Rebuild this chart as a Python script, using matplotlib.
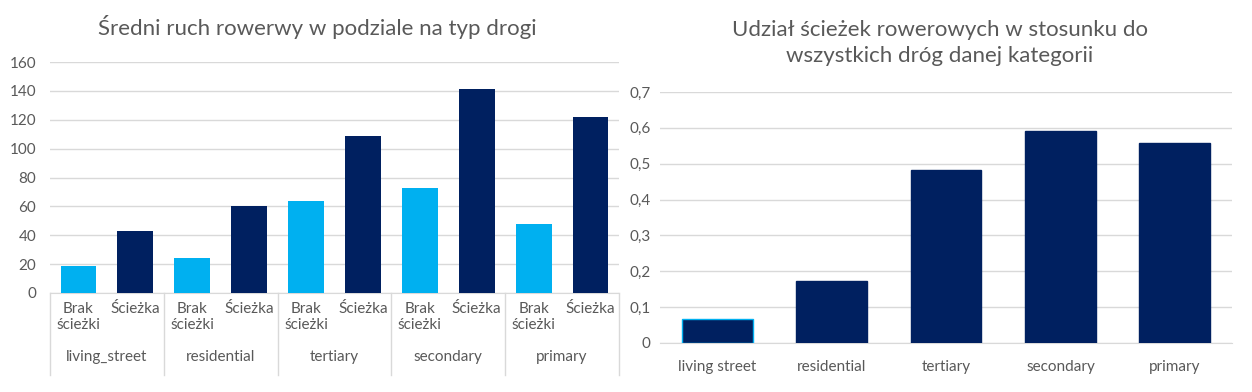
import numpy as np
import matplotlib.pyplot as plt

plt.rcParams['font.family'] = ['Lato', 'DejaVu Sans']

road_types = ['living_street', 'residential', 'tertiary', 'secondary', 'primary']
sub_labels = ['Brak\nścieżki', 'Ścieżka']
traffic_no_path = [19, 24, 64, 73, 48]
traffic_path = [43, 60, 109, 141, 122]

share_labels = ['living street', 'residential', 'tertiary', 'secondary', 'primary']
share_values = [0.068, 0.173, 0.483, 0.590, 0.557]

light = '#00B0F0'
navy = '#002060'
grid_c = '#D9D9D9'
text_c = '#595959'

fig = plt.figure(figsize=(12.52, 3.92), dpi=100)

# left chart: average traffic
ax1 = fig.add_axes([50/1252, 99/392, 569/1252, 231/392])
vals = []
cols = []
for a, b in zip(traffic_no_path, traffic_path):
    vals += [a, b]
    cols += [light, navy]
x = np.arange(len(vals))
ax1.bar(x, vals, width=0.63, color=cols, zorder=3)
ax1.set_xlim(-0.5, len(vals) - 0.5)
ax1.set_ylim(0, 160)
ax1.set_yticks(np.arange(0, 161, 20))
ax1.yaxis.grid(True, color=grid_c, linewidth=1)
ax1.set_axisbelow(True)
ax1.set_xticks([])
for s in ['top', 'right', 'left']:
    ax1.spines[s].set_visible(False)
ax1.spines['bottom'].set_color(grid_c)
ax1.tick_params(axis='y', length=0, labelsize=11, labelcolor=text_c, pad=10)

trans = ax1.get_xaxis_transform()
for i, v in enumerate(vals):
    ax1.text(i, -0.04, sub_labels[i % 2], transform=trans, ha='center', va='top',
             fontsize=11, color=text_c, linespacing=1.15)
for g, name in enumerate(road_types):
    ax1.text(2 * g + 0.5, -0.275, name, transform=trans, ha='center', va='center',
             fontsize=11, color=text_c)
for g in range(len(road_types) + 1):
    ax1.plot([2 * g - 0.5, 2 * g - 0.5], [0, -0.355], transform=trans,
             color=grid_c, linewidth=1, clip_on=False)

fig.text(317/1252, 1 - 27/392, 'Średni ruch rowerwy w podziale na typ drogi',
         ha='center', va='center', fontsize=16, color=text_c)

# right chart: share of bike paths
ax2 = fig.add_axes([660/1252, 49/392, 572/1252, 251/392])
x2 = np.arange(len(share_values))
edges = [light] + [navy] * (len(share_values) - 1)
ax2.bar(x2, share_values, width=0.62, color=navy, edgecolor=edges, linewidth=1, zorder=3)
ax2.set_xlim(-0.5, len(share_values) - 0.5)
ax2.set_ylim(0, 0.7)
yt = np.arange(0, 0.71, 0.1)
ax2.set_yticks(yt)
ax2.set_yticklabels(['0'] + [f'{v:.1f}'.replace('.', ',') for v in yt[1:]])
ax2.set_xticks(x2)
ax2.set_xticklabels(share_labels)
ax2.yaxis.grid(True, color=grid_c, linewidth=1)
ax2.set_axisbelow(True)
for s in ['top', 'right', 'left']:
    ax2.spines[s].set_visible(False)
ax2.spines['bottom'].set_color(grid_c)
ax2.tick_params(axis='both', length=0, labelsize=11, labelcolor=text_c)
ax2.tick_params(axis='y', pad=7)
ax2.tick_params(axis='x', pad=12)

fig.text(940/1252, 1 - 43/392, 'Udział ścieżek rowerowych w stosunku do\nwszystkich dróg danej kategorii',
         ha='center', va='center', fontsize=16, color=text_c, linespacing=1.35)

fig.savefig('out.png', dpi=100)
